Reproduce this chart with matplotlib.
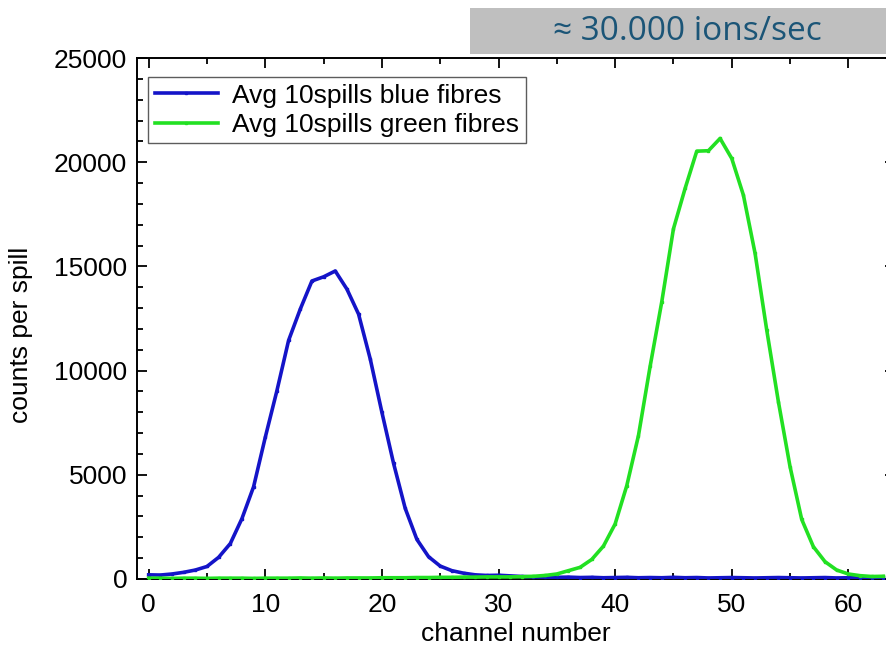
import matplotlib
matplotlib.use("Agg")
import matplotlib.pyplot as plt
from matplotlib.ticker import MultipleLocator

channels = list(range(64))
blue_counts = [200, 190, 240, 320, 430, 600, 1040, 1700, 2900, 4430,
               6800, 9040, 11450, 12950, 14300, 14500, 14780, 13910, 12710, 10560,
               8000, 5550, 3390, 1900, 1070, 620, 400, 280, 200, 170,
               180, 150, 120, 100, 90, 80, 90, 70, 80, 60,
               70, 80, 60, 70, 60, 80, 60, 70, 50, 60,
               70, 60, 50, 60, 70, 60, 50, 60, 70, 50,
               60, 70, 60, 50]
green_counts = [40, 40, 30, 40, 40, 30, 40, 40, 40, 30,
                40, 40, 40, 50, 40, 50, 40, 50, 50, 50,
                60, 60, 60, 70, 70, 80, 80, 90, 90, 100,
                100, 100, 110, 130, 170, 240, 400, 560, 940, 1580,
                2640, 4480, 6880, 10200, 13300, 16800, 18740, 20530, 20550, 21140,
                20180, 18420, 15630, 11950, 8510, 5390, 2860, 1550, 830, 430,
                240, 160, 120, 130]
series_labels = ["Avg 10spills blue fibres", "Avg 10spills green fibres"]
banner_text = "\u2248 30.000 ions/sec"

plt.rcParams['font.family'] = ['Liberation Sans', 'DejaVu Sans']

W, H = 887, 648
fig = plt.figure(figsize=(W / 100, H / 100), dpi=100)
ax = fig.add_axes([137 / W, 1 - 579 / H, (895 - 137) / W, (579 - 58) / H])

ax.plot(channels, blue_counts, color='#1414c8', lw=2.6, marker='s', ms=2.0,
        label=series_labels[0], zorder=3)
ax.plot(channels, green_counts, color='#22e022', lw=2.6, marker='s', ms=2.0,
        label=series_labels[1], zorder=3)

ax.set_xlim(-1, 64)
ax.set_ylim(0, 25000)
ax.xaxis.set_major_locator(MultipleLocator(10))
ax.xaxis.set_minor_locator(MultipleLocator(5))
ax.yaxis.set_major_locator(MultipleLocator(5000))
ax.yaxis.set_minor_locator(MultipleLocator(1000))
ax.tick_params(which='both', direction='in', top=True, right=True, width=1.3,
               labelsize=19, pad=7)
ax.tick_params(axis='x', which='both', pad=10)
ax.tick_params(which='major', length=7)
ax.tick_params(which='minor', length=4)
for s in ax.spines.values():
    s.set_linewidth(1.4)

ax.set_xlabel("channel number", fontsize=19, labelpad=4)
ax.set_ylabel("counts per spill", fontsize=19)
ax.yaxis.set_label_coords(-0.137, 0.468)

leg = ax.legend(loc='upper left', bbox_to_anchor=(148 / W, 1 - 77 / H),
                bbox_transform=fig.transFigure, borderaxespad=0,
                fancybox=False, fontsize=19, handlelength=2.4,
                labelspacing=0.2, borderpad=0.25, handletextpad=0.55,
                frameon=True)
leg.get_frame().set_edgecolor('#333333')
leg.get_frame().set_linewidth(1.0)

fig.patches.append(plt.Rectangle((470 / W, 1 - 54 / H), (W - 470) / W, 46 / H,
                                 transform=fig.transFigure, facecolor='#bfbfbf',
                                 edgecolor='none', zorder=0))
fig.text(687 / W, 1 - 31 / H, banner_text, ha='center', va='center',
         fontsize=24, color='#1b5577', family=['Open Sans', 'DejaVu Sans'])

fig.savefig("out.png", dpi=100)
